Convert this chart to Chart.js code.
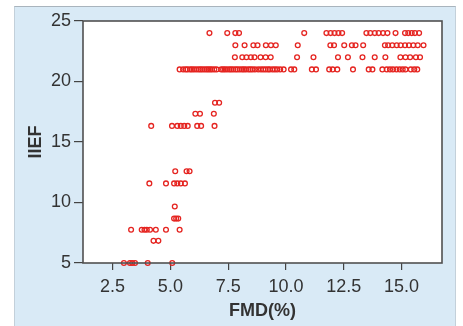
<!DOCTYPE html>
<html>
<head>
<meta charset="utf-8">
<script src="https://cdn.jsdelivr.net/npm/chart.js@4"></script>
<style>
  body { margin: 0; background: #fff; }
  #frame { position: absolute; left: 14px; top: 6px; width: 440px; height: 320px;
           background: #d9eaf6; border-top: 1px solid #a9b4bd; border-left: 1px solid #c3d0da; border-right: 1px solid #c3d0da; }
  #wrap { position: absolute; left: 0; top: 0; width: 463px; height: 326px; }
</style>
</head>
<body>
<div id="frame"></div>
<div id="wrap"><canvas id="scatter" width="463" height="326"></canvas></div>
<script>
const iiefLevels = [24, 23, 22, 21, 18.25, 17.33, 16.33, 12.58, 11.58, 9.67, 8.67, 7.75, 6.83, 5];
const fmd24 = [6.69, 7.46, 7.81, 7.97, 10.79, 11.75, 11.93, 12.10, 12.27, 12.43, 13.48, 13.65, 13.84, 14.01, 14.20, 14.39, 14.74, 15.15, 15.29, 15.44, 15.58, 15.76];
const fmd23 = [7.81, 8.21, 8.59, 8.77, 9.13, 9.35, 9.56, 10.51, 11.92, 12.08, 12.52, 12.85, 13.01, 13.34, 14.28, 14.42, 14.60, 14.79, 14.96, 15.15, 15.32, 15.51, 15.70, 15.95];
const fmd22 = [7.79, 8.11, 8.29, 8.48, 8.64, 8.90, 9.12, 9.34, 10.48, 11.19, 12.25, 12.68, 13.31, 13.84, 14.30, 14.95, 15.17, 15.37, 15.62, 15.80];
const fmd21 = [5.40, 5.55, 5.66, 5.74, 5.85, 5.93, 6.02, 6.12, 6.22, 6.30, 6.38, 6.47, 6.56, 6.64, 6.72, 6.80, 6.90, 7.00,
               7.20, 7.28, 7.36, 7.45, 7.55, 7.63, 7.72, 7.82, 7.90, 8.00, 8.10, 8.18, 8.27, 8.38, 8.46, 8.55, 8.66, 8.80,
               8.92, 9.02, 9.12, 9.22, 9.30, 9.42, 9.52, 9.62, 9.75, 9.90, 10.22, 10.36, 11.12, 11.30, 11.87, 12.02, 12.22,
               12.90, 13.58, 13.74, 14.17, 14.36, 14.50, 14.63, 14.78, 14.92, 15.05, 15.17, 15.40, 15.55, 15.68];
const fmd18 = [6.93, 7.11];
const fmd17 = [6.08, 6.28, 6.88];
const fmd16 = [4.17, 5.07, 5.30, 5.45, 5.60, 5.75, 6.16, 6.33, 6.91];
const fmd12 = [5.21, 5.70, 5.83];
const fmd11 = [4.09, 4.81, 5.16, 5.30, 5.45, 5.63];
const fmd9 = [5.19];
const fmd8 = [5.16, 5.25, 5.34];
const fmd7 = [3.30, 3.76, 3.88, 3.98, 4.12, 4.37, 4.81, 5.40];
const fmd6 = [4.27, 4.48];
const fmd5 = [2.99, 3.25, 3.35, 3.47, 4.02, 5.08];
const fmdRows = [fmd24, fmd23, fmd22, fmd21, fmd18, fmd17, fmd16, fmd12, fmd11, fmd9, fmd8, fmd7, fmd6, fmd5];
const xTicks = [2.5, 5.0, 7.5, 10.0, 12.5, 15.0];
const yTicks = [5, 10, 15, 20, 25];

const points = [];
fmdRows.forEach((row, i) => row.forEach(x => points.push({ x: x, y: iiefLevels[i] })));

// white plot area with a full box around it
const plotBox = {
    id: 'plotBox',
    beforeDraw(chart) {
        const a = chart.chartArea, ctx = chart.ctx;
        ctx.save();
        ctx.fillStyle = '#ffffff';
        ctx.fillRect(a.left, a.top, a.right - a.left, a.bottom - a.top);
        ctx.restore();
    },
    afterDraw(chart) {
        const a = chart.chartArea, ctx = chart.ctx;
        ctx.save();
        ctx.strokeStyle = '#505050';
        ctx.lineWidth = 1.6;
        ctx.strokeRect(a.left, a.top, a.right - a.left, a.bottom - a.top);
        ctx.restore();
    }
};

const tickFont = { family: 'Liberation Sans, Arial, sans-serif', size: 18 };
const titleFont = { family: 'Liberation Sans, Arial, sans-serif', size: 18, weight: 'bold' };

new Chart(document.getElementById('scatter').getContext('2d'), {
    type: 'scatter',
    data: {
        datasets: [{
            data: points,
            pointStyle: 'circle',
            pointRadius: 2.4,
            pointBorderWidth: 1.3,
            borderColor: '#e52420',
            backgroundColor: 'rgba(0,0,0,0)',
            clip: false
        }]
    },
    plugins: [plotBox],
    options: {
        responsive: false,
        animation: false,
        events: [],
        layout: { padding: { left: 0, top: 21, right: 21, bottom: 0 } },
        plugins: { legend: { display: false }, tooltip: { enabled: false } },
        scales: {
            x: {
                type: 'linear',
                min: 1.22,
                max: 16.75,
                afterBuildTicks: s => { s.ticks = xTicks.map(v => ({ value: v })); },
                afterFit: s => { s.height = 63; },
                ticks: { font: tickFont, color: '#333', padding: 6, maxRotation: 0,
                         callback: v => Number(v).toFixed(1) },
                grid: { drawOnChartArea: false, drawTicks: true, tickLength: 7, color: '#444', lineWidth: 1.2 },
                border: { display: false },
                title: { display: true, text: 'FMD(%)', font: titleFont, color: '#333', padding: { top: 0, bottom: 4 } }
            },
            y: {
                type: 'linear',
                min: 5,
                max: 25,
                afterBuildTicks: s => { s.ticks = yTicks.map(v => ({ value: v })); },
                afterFit: s => { s.width = 83; },
                ticks: { font: tickFont, color: '#333', padding: 3 },
                grid: { drawOnChartArea: false, drawTicks: true, tickLength: 9, color: '#444', lineWidth: 1.2 },
                border: { display: false },
                title: { display: true, text: 'IIEF', font: titleFont, color: '#333', padding: { top: 25, bottom: 0 } }
            }
        }
    }
});
</script>
</body>
</html>
